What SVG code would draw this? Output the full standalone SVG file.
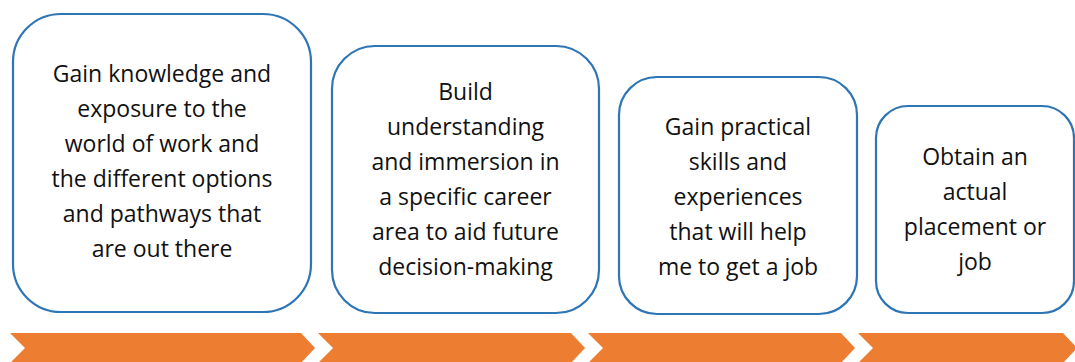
<svg xmlns="http://www.w3.org/2000/svg" width="1075" height="362" viewBox="0 0 1075 362">
<style>
.box{fill:#ffffff;stroke:#2E75B6;stroke-width:2.2}
.lbl{font-family:"Open Sans","Liberation Sans",sans-serif;font-size:23px;fill:#111111;text-anchor:middle}
.chev{fill:#ED7D31}
</style>
<rect width="1075" height="362" fill="#ffffff"/>
<g id="connectors">
<polygon class="chev" points="10,333 301,333 315,348 301,363 10,363 25,348"/>
<polygon class="chev" points="318,333 571,333 585,348 571,363 318,363 333,348"/>
<polygon class="chev" points="588,333 841,333 855,348 841,363 588,363 603,348"/>
<polygon class="chev" points="858,333 1063,333 1077,348 1063,363 858,363 873,348"/>
</g>
<g id="node1">
<rect class="box" x="13" y="14" width="298" height="298" rx="48"/>
<text class="lbl"><tspan x="162" y="82">Gain knowledge and</tspan><tspan x="162" y="117">exposure to the</tspan><tspan x="162" y="152">world of work and</tspan><tspan x="162" y="187">the different options</tspan><tspan x="162" y="222">and pathways that</tspan><tspan x="162" y="257">are out there</tspan></text>
</g>
<g id="node2">
<rect class="box" x="332" y="46" width="267" height="267" rx="43"/>
<text class="lbl"><tspan x="465.5" y="100">Build</tspan><tspan x="465.5" y="135">understanding</tspan><tspan x="465.5" y="170">and immersion in</tspan><tspan x="465.5" y="205">a specific career</tspan><tspan x="465.5" y="240">area to aid future</tspan><tspan x="465.5" y="275">decision-making</tspan></text>
</g>
<g id="node3">
<rect class="box" x="619" y="77" width="238" height="237" rx="38"/>
<text class="lbl"><tspan x="738" y="135">Gain practical</tspan><tspan x="738" y="170">skills and</tspan><tspan x="738" y="205">experiences</tspan><tspan x="738" y="240">that will help</tspan><tspan x="738" y="275">me to get a job</tspan></text>
</g>
<g id="node4">
<rect class="box" x="876" y="106" width="198" height="207" rx="32"/>
<text class="lbl"><tspan x="975" y="165">Obtain an</tspan><tspan x="975" y="200">actual</tspan><tspan x="975" y="235">placement or</tspan><tspan x="975" y="270">job</tspan></text>
</g>
</svg>
